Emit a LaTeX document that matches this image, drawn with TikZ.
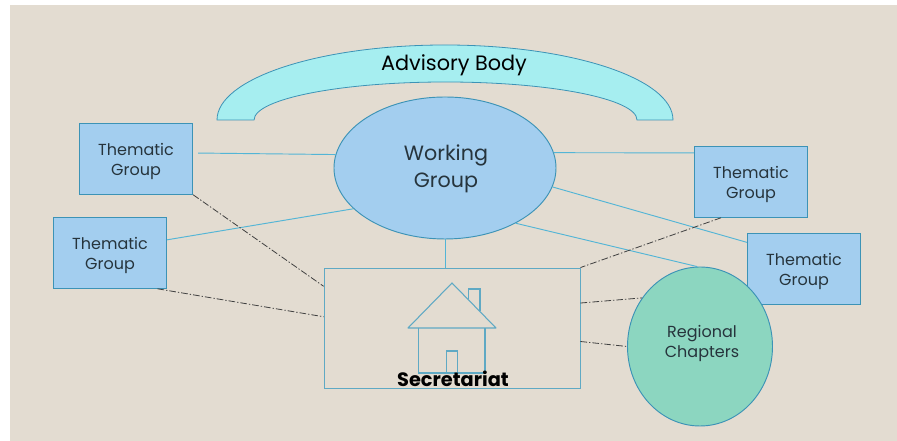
\documentclass[tikz,border=0pt]{standalone}
\usepackage{fontspec}
\setmainfont{Poppins}
\usetikzlibrary{shapes.geometric}
\definecolor{paper}{HTML}{E3DCD1}
\definecolor{boxblue}{HTML}{A3CEEF}
\definecolor{boxedge}{HTML}{3C93B6}
\definecolor{archcyan}{HTML}{A6EEF0}
\definecolor{chaptergreen}{HTML}{8CD6C0}
\definecolor{linkblue}{HTML}{53B5D6}
\definecolor{housered}{HTML}{5FA9C4}
\definecolor{inktext}{HTML}{26343C}
\newcommand{\grouptext}{\raisebox{-2.25pt}[\height][\depth]{\begin{tabular}{@{}c@{}}Thematic\\Group\end{tabular}}}

\begin{document}
\begin{tikzpicture}[x=0.75pt, y=0.75pt]
    % ==========================
    % settings
    % ==========================
    \tikzset{
        thematic/.style={draw=boxedge, fill=boxblue, line width=0.7pt, minimum width=85pt, minimum height=53pt, inner sep=0pt, text=inktext, font=\fontsize{12}{15}\selectfont},
        hub/.style={ellipse, draw=boxedge, fill=boxblue, line width=0.7pt, minimum width=166.5pt, minimum height=106.5pt, inner sep=0pt},
        chapter/.style={ellipse, draw=boxedge, fill=chaptergreen, line width=0.7pt, minimum width=108.75pt, minimum height=119.25pt, inner sep=0pt},
        office/.style={draw=housered, line width=0.65pt, minimum width=192pt, minimum height=90pt, inner sep=0pt},
        link/.style={draw=linkblue, line width=0.7pt},
        tie/.style={draw=black!75, line width=0.6pt, dash pattern=on 5pt off 1.5pt on 1pt off 1.5pt},
        house/.style={draw=housered, line width=0.8pt}
    }

    \useasboundingbox (0,0) rectangle (897,441);
    \fill[paper] (10,0) rectangle (897,436);

    % arch
    \draw[draw=boxedge, fill=archcyan, line width=0.6pt] (217,321) arc (180:0:171pt and 56.25pt)
        -- (637,321) arc (0:180:143.6pt and 28.5pt) -- cycle;
    \node (advisory) at (454,376) {\fontsize{15.6}{18}\selectfont Advisory Body};

    % boxes
    \node[thematic] (tg1) at (136,282) {\grouptext};
    \node[thematic] (tg2) at (110,188) {\grouptext};
    \node[thematic] (tg3) at (751,259) {\grouptext};
    \node[thematic] (tg4) at (804,172) {\grouptext};
    \node[hub] (wg) at (445,273) {};
    \node[align=center, text=inktext, font=\fontsize{15.5}{20}\selectfont] (wglabel) at (446,272) {Working\\Group};
    \node[office] (sec) at (452,113) {};

    % solid lines
    \draw[link, shorten <=3.75pt] (tg1.6) -- (wg.173);
    \draw[link] (tg2.13) -- (wg.204);
    \draw[link] (tg3.153) -- (wg.8);
    \draw[link] (tg4.155) -- (wg.-10);
    \draw[link] (wg.south) -- (wg.south |- sec.north);

    % chapter circle sits on top of its lines
    \node[chapter] (rc) at (700,94.5) {};
    \node[align=center, text=inktext, font=\fontsize{12}{15}\selectfont] (rclabel) at (702,97) {Regional\\Chapters};
    \draw[link] (wg.-38) -- (rc.92);

    % dash-dot lines
    \draw[tie] (tg1.south east) -- (sec.162);
    \draw[tie] (tg2.-37) -- (sec.175);
    \draw[tie] (tg3.-130) -- (sec.north east);
    \draw[tie] (sec.11) -- (rc.140);
    \draw[tie] (sec.-6) -- (rc.180);

    % house
    \draw[house, line join=round] (408,113) -- (452,158) -- (496,113) -- cycle;
    \draw[house] (418.5,113) -- (418.5,68) -- (485,68) -- (485,113);
    \draw[house] (446.5,68) -- (446.5,90) -- (457.5,90) -- (457.5,68);
    \draw[house] (468.5,142) -- (468.5,152) -- (480,152) -- (480,130);
    \node[font=\fontsize{14.5}{16}\bfseries\selectfont] (seclabel) at (453,62) {Secretariat};
\end{tikzpicture}
\end{document}
